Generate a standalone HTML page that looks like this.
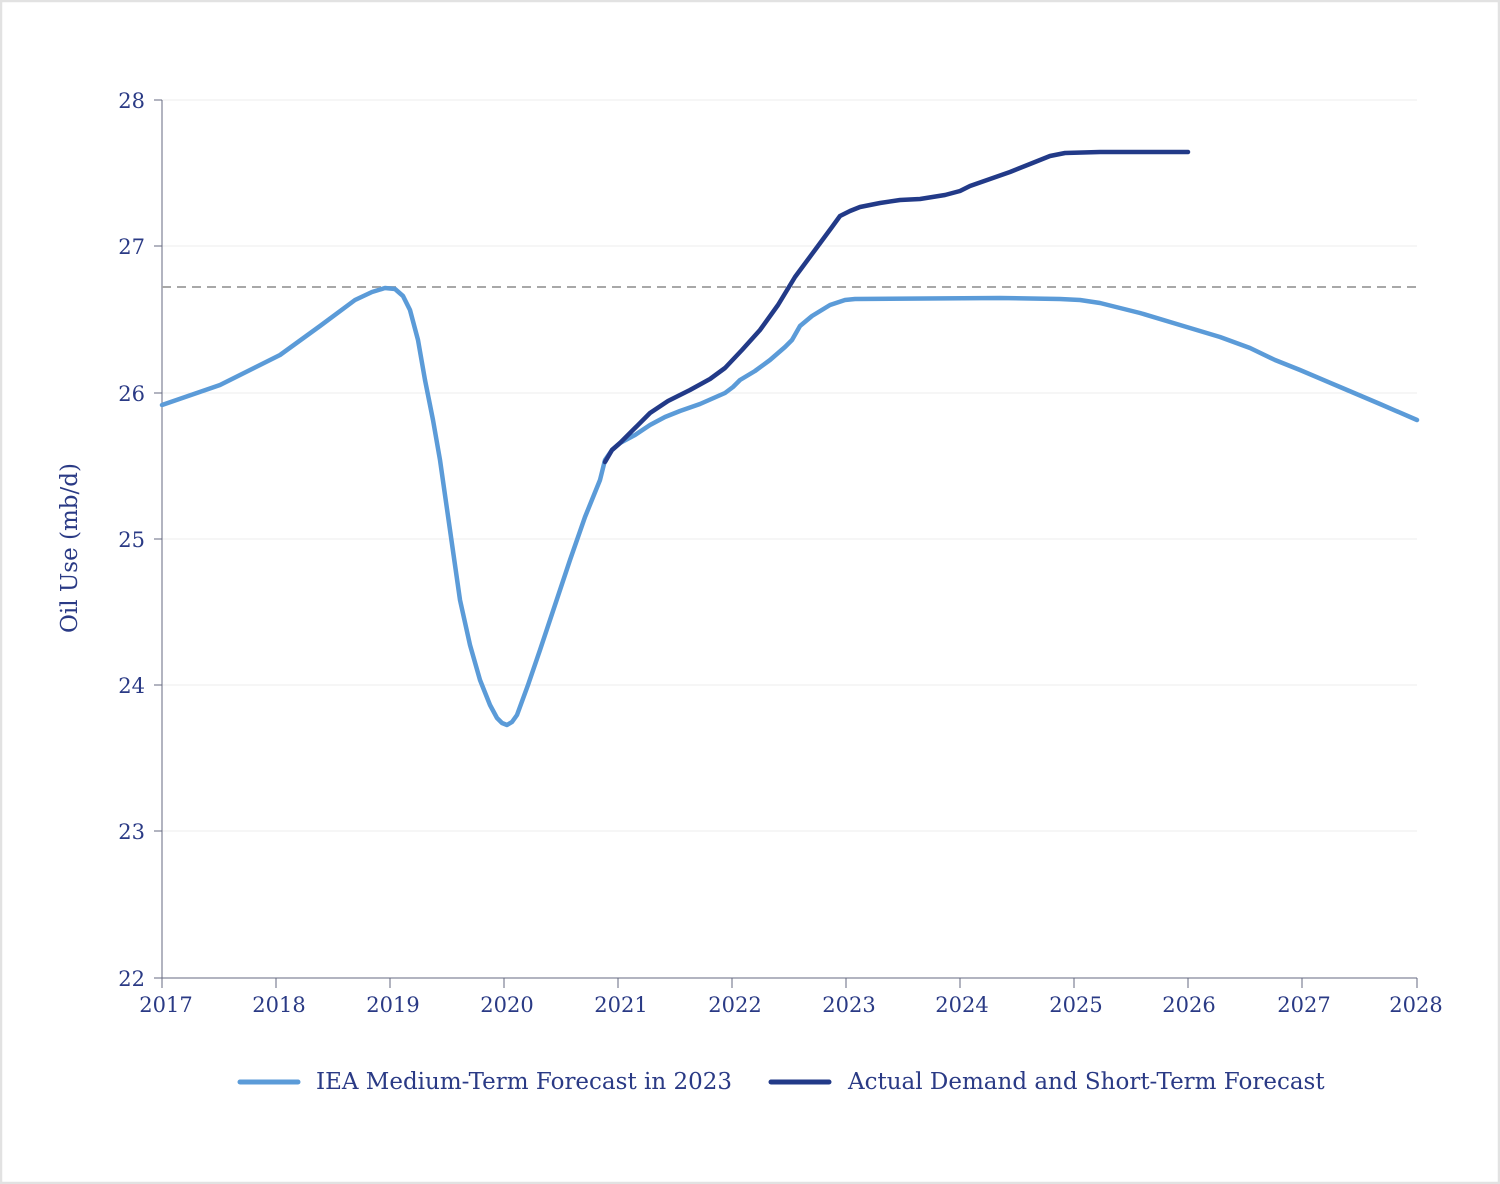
<!DOCTYPE html>
<html><head><meta charset="utf-8"><style>
html,body{margin:0;padding:0;background:#fff}
svg{display:block}
text{font-family:"DejaVu Serif","Liberation Serif",serif;fill:#2a3a85}
</style></head><body>
<svg width="1500" height="1184" viewBox="0 0 1500 1184" xmlns="http://www.w3.org/2000/svg">
<rect x="1" y="1" width="1498" height="1182" fill="#fff" stroke="#e2e2e2" stroke-width="2.5"/>
<g stroke="#ececec" stroke-width="1">
<line x1="162" y1="100" x2="1417" y2="100"/><line x1="162" y1="246" x2="1417" y2="246"/>
<line x1="162" y1="393" x2="1417" y2="393"/><line x1="162" y1="539" x2="1417" y2="539"/>
<line x1="162" y1="685" x2="1417" y2="685"/><line x1="162" y1="831" x2="1417" y2="831"/>
</g>
<g stroke="#666a80" stroke-width="1">
<line x1="162" y1="100" x2="162" y2="978"/><line x1="162" y1="978" x2="1417" y2="978"/>
<line x1="154" y1="100" x2="162" y2="100"/><line x1="154" y1="246" x2="162" y2="246"/>
<line x1="154" y1="393" x2="162" y2="393"/><line x1="154" y1="539" x2="162" y2="539"/>
<line x1="154" y1="685" x2="162" y2="685"/><line x1="154" y1="831" x2="162" y2="831"/>
<line x1="154" y1="978" x2="162" y2="978"/>
<line x1="162" y1="978" x2="162" y2="988"/><line x1="276" y1="978" x2="276" y2="988"/>
<line x1="390" y1="978" x2="390" y2="988"/><line x1="504" y1="978" x2="504" y2="988"/>
<line x1="618" y1="978" x2="618" y2="988"/><line x1="732" y1="978" x2="732" y2="988"/>
<line x1="846" y1="978" x2="846" y2="988"/><line x1="960" y1="978" x2="960" y2="988"/>
<line x1="1074" y1="978" x2="1074" y2="988"/><line x1="1188" y1="978" x2="1188" y2="988"/>
<line x1="1302" y1="978" x2="1302" y2="988"/><line x1="1417" y1="978" x2="1417" y2="988"/>
</g>
<g font-size="21" text-anchor="end">
<text x="145" y="108">28</text><text x="145" y="254">27</text><text x="145" y="401">26</text>
<text x="145" y="547">25</text><text x="145" y="693">24</text><text x="145" y="839">23</text><text x="145" y="986">22</text>
</g>
<g font-size="21" text-anchor="middle">
<text x="166" y="1012">2017</text><text x="279" y="1012">2018</text><text x="393" y="1012">2019</text>
<text x="507" y="1012">2020</text><text x="621" y="1012">2021</text><text x="735" y="1012">2022</text>
<text x="849" y="1012">2023</text><text x="962" y="1012">2024</text><text x="1076" y="1012">2025</text>
<text x="1189" y="1012">2026</text><text x="1304" y="1012">2027</text><text x="1416" y="1012">2028</text>
</g>
<text x="77" y="548" font-size="23" text-anchor="middle" transform="rotate(-90 77 548)">Oil Use (mb/d)</text>
<line x1="162" y1="287" x2="1417" y2="287" stroke="#a8a8a8" stroke-width="2" stroke-dasharray="9,6"/>
<polyline fill="none" stroke="#5b9bd8" stroke-width="4.5" stroke-linejoin="round" stroke-linecap="round"
points="162,405 220,385 280,355 320,326 355,300 372,292 385,288 395,289 403,296 410,310 418,340 425,380 433,420 440,460 450,530 460,600 470,645 480,680 490,705 497,718 502,723 507,725 512,722 517,715 528,685 540,650 555,605 570,560 585,517 600,480 605,460 612,450 620,443 635,435 650,425 665,417 680,411 700,404 725,393 733,387 740,380 755,371 770,360 785,347 792,340 800,326 812,316 830,305 845,300 855,299 1000,298 1060,299 1080,300 1100,303 1140,313 1180,325 1220,337 1250,348 1275,360 1300,370 1340,387 1380,404 1417,420"/>
<polyline fill="none" stroke="#223a88" stroke-width="4.5" stroke-linejoin="round" stroke-linecap="round"
points="605,462 612,450 620,443 635,428 650,413 668,401 690,390 710,379 725,368 742,350 760,330 778,305 795,277 815,250 832,227 840,216 850,211 860,207 880,203 900,200 920,199 945,195 960,191 970,186 990,179 1010,172 1030,164 1050,156 1065,153 1100,152 1150,152 1188,152"/>
<line x1="240" y1="1082" x2="298" y2="1082" stroke="#5b9bd8" stroke-width="5" stroke-linecap="round"/>
<text x="316" y="1089" font-size="23">IEA Medium-Term Forecast in 2023</text>
<line x1="771" y1="1082" x2="829" y2="1082" stroke="#223a88" stroke-width="5" stroke-linecap="round"/>
<text x="848" y="1089" font-size="23">Actual Demand and Short-Term Forecast</text>
</svg>
</body></html>
